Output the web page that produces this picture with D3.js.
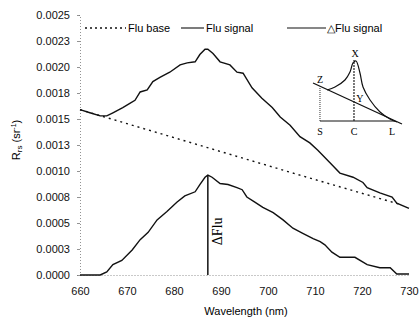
<!DOCTYPE html>
<html><head><meta charset="utf-8">
<script src="https://cdn.jsdelivr.net/npm/d3@7/dist/d3.min.js"></script>
<style>body{margin:0;background:#fff}svg{display:block}text{font-family:Arial,"Liberation Sans",sans-serif}text.serif{font-family:"Liberation Serif","DejaVu Serif",serif}</style>
</head><body><svg id="c" width="420" height="327"></svg>
<script>
// ---- data ----
const xTicks = [660,670,680,690,700,710,720,730];
const yTickValues = [0,0.00025,0.0005,0.00075,0.001,0.00125,0.0015,0.00175,0.002,0.00225,0.0025];
const yTickLabels = ["0.0000","0.0003","0.0005","0.0008","0.0010","0.0013","0.0015","0.0018","0.0020","0.0023","0.0025"];
const fluBase = [[660,0.00159],[706.8,0.00096],[728,0.00068]];
const fluSignal = [[660,0.00159],[662.1,0.00156],[664.3,0.00153],[665.7,0.00153],[667,0.00156],[669.1,0.00161],[670.6,0.00165],[671.7,0.00168],[672.8,0.00176],[674.3,0.00178],[675.5,0.00186],[677,0.0019],[679.1,0.00195],[681.3,0.00202],[682.8,0.00204],[684.5,0.00205],[685.5,0.00212],[686.6,0.00217],[687.2,0.00217],[688.3,0.00213],[689.8,0.00205],[691.9,0.00202],[693.4,0.00195],[694.7,0.00194],[696.6,0.0018],[698.7,0.0017],[700.9,0.00161],[702.6,0.00152],[704.7,0.00144],[706.8,0.00133],[708.9,0.00127],[710.6,0.0012],[713.6,0.00106],[715.3,0.00098],[718.1,0.00094],[720.2,0.00089],[721.1,0.00084],[723.8,0.00079],[726.4,0.00075],[727.4,0.00069],[730,0.00064]];
const deltaFlu = [[660,0],[664.3,0],[665.7,0.00003],[667,0.0001],[668.9,0.00014],[671.1,0.00024],[672.8,0.00034],[674.5,0.00041],[676.4,0.00053],[678.5,0.00061],[680.6,0.0007],[682.3,0.00076],[684.5,0.0008],[685.5,0.00087],[686.6,0.00094],[687.2,0.00096],[688.1,0.00094],[689.8,0.00088],[691.5,0.00087],[693.4,0.00084],[694.5,0.00082],[695.5,0.00075],[697.2,0.0007],[698.9,0.00065],[701.1,0.0006],[703.2,0.00053],[705.3,0.00045],[707.4,0.0004],[709.6,0.00035],[711.1,0.00032],[712.1,0.00029],[713.6,0.00022],[715.3,0.00017],[718.5,0.00017],[721.1,0.0001],[723.8,0.00007],[726,0.00007],[727.4,0.00001],[730,0.00001]];
const peakWl = 687.2, peakDelta = 0.00096;
const legendLabels = ["Flu base","Flu signal","\u25B3Flu signal"];
// inset schematic (local units, x 0-100, y 0-100)
const insetCurve = [[17.9,44.3],[26.3,48.6],[36.8,58.6],[42.1,70],[45.3,82.9],[48.4,85.7],[52.6,68.6],[55.8,48.6],[63.2,30],[73.7,12.9],[84.2,2.9],[91.6,-1.4]];
const insetLine = [[3.2,54.3],[96.8,-4.3]];
const insetBase = [[10.5,0],[89.5,0]];
const insetS = [[10.5,0],[10.5,49]];
const insetC = [[46.3,0],[46.3,87]];
const insetLabels = [["X",47.4,91.4],["Z",10.5,54.3],["Y",52.6,27],["S",10.5,-20],["C",46.3,-20],["L",86.3,-20]];

// ---- chart ----
const svg = d3.select("#c");
const x = d3.scaleLinear().domain([660,730]).range([80,409]);
const y = d3.scaleLinear().domain([0,0.0025]).range([275,15]);

const yAxis = svg.append("g").attr("transform","translate(80,0)")
  .call(d3.axisLeft(y).tickValues(yTickValues).tickSize(3).tickPadding(7)
    .tickFormat((d,i)=>yTickLabels[i]));
const xAxis = svg.append("g").attr("transform","translate(0,275)")
  .call(d3.axisBottom(x).tickValues(xTicks).tickSize(0).tickPadding(12).tickFormat(d3.format("d")));
[yAxis,xAxis].forEach(g=>{
  g.select(".domain").attr("stroke","#777").attr("stroke-width",0.8).attr("stroke-dasharray","1,2");
  g.selectAll(".tick line").attr("stroke","#777").attr("stroke-width",0.8);
  g.selectAll("text").attr("font-size",11).attr("fill","#111");
});

const line = d3.line().x(d=>x(d[0])).y(d=>y(d[1]));
svg.append("path").datum(fluBase).attr("d",line).attr("fill","none").attr("stroke","#111")
  .attr("stroke-width",1.4).attr("stroke-dasharray","2,4");
svg.append("path").datum(fluSignal).attr("d",line).attr("fill","none").attr("stroke","#111").attr("stroke-width",1.4);
svg.append("path").datum(deltaFlu).attr("d",line).attr("fill","none").attr("stroke","#111").attr("stroke-width",1.4);
svg.append("line").attr("x1",x(peakWl)).attr("x2",x(peakWl)).attr("y1",y(peakDelta)).attr("y2",y(0))
  .attr("stroke","#111").attr("stroke-width",1.5);
svg.append("text").attr("class","serif").attr("transform",`translate(${x(peakWl)+14},${y(0.00042)}) rotate(-90)`)
  .attr("text-anchor","middle").attr("font-size",14).text("\u0394Flu");

// legend
const lg = svg.append("g");
lg.append("line").attr("x1",85).attr("x2",126).attr("y1",28).attr("y2",28).attr("stroke","#111").attr("stroke-width",1.3).attr("stroke-dasharray","2,3");
lg.append("text").attr("x",128).attr("y",32).attr("font-size",11).text(legendLabels[0]);
lg.append("line").attr("x1",181).attr("x2",204).attr("y1",28).attr("y2",28).attr("stroke","#111").attr("stroke-width",1.1);
lg.append("text").attr("x",206).attr("y",32).attr("font-size",11).text(legendLabels[1]);
lg.append("line").attr("x1",287).attr("x2",326).attr("y1",28).attr("y2",28).attr("stroke","#111").attr("stroke-width",1.1);
lg.append("text").attr("x",327).attr("y",32).attr("font-size",11).text(legendLabels[2]);

// axis titles
svg.append("text").attr("x",246).attr("y",315).attr("text-anchor","middle").attr("font-size",11).text("Wavelength (nm)");
const yt = svg.append("text").attr("transform","translate(20,140) rotate(-90)").attr("text-anchor","middle").attr("font-size",11);
yt.append("tspan").text("R");
yt.append("tspan").attr("font-size",8).attr("dy",2).text("rs");
yt.append("tspan").attr("dy",-2).text(" (sr");
yt.append("tspan").attr("font-size",7).attr("dy",-4).text("-1");
yt.append("tspan").attr("dy",4).text(")");

// inset
const ix = d3.scaleLinear().domain([0,100]).range([310,405]);
const iy = d3.scaleLinear().domain([0,100]).range([121,51]);
const il = d3.line().x(d=>ix(d[0])).y(d=>iy(d[1]));
const ins = svg.append("g");
ins.append("path").datum(insetCurve).attr("d",il.curve(d3.curveCatmullRom)).attr("fill","none").attr("stroke","#111").attr("stroke-width",1.2);
il.curve(d3.curveLinear);
ins.append("path").datum(insetLine).attr("d",il).attr("stroke","#111").attr("stroke-width",1.3);
ins.append("path").datum(insetBase).attr("d",il).attr("stroke","#111").attr("stroke-width",1);
ins.append("path").datum(insetS).attr("d",il).attr("stroke","#333").attr("stroke-width",1).attr("stroke-dasharray","1,1");
ins.append("path").datum(insetC).attr("d",il).attr("stroke","#222").attr("stroke-width",1.2).attr("stroke-dasharray","2,1");
ins.selectAll("text.il").data(insetLabels).join("text").attr("class","il serif")
  .attr("x",d=>ix(d[1])).attr("y",d=>iy(d[2])).attr("text-anchor","middle")
  .attr("font-size",10).text(d=>d[0]);
</script></body></html>
